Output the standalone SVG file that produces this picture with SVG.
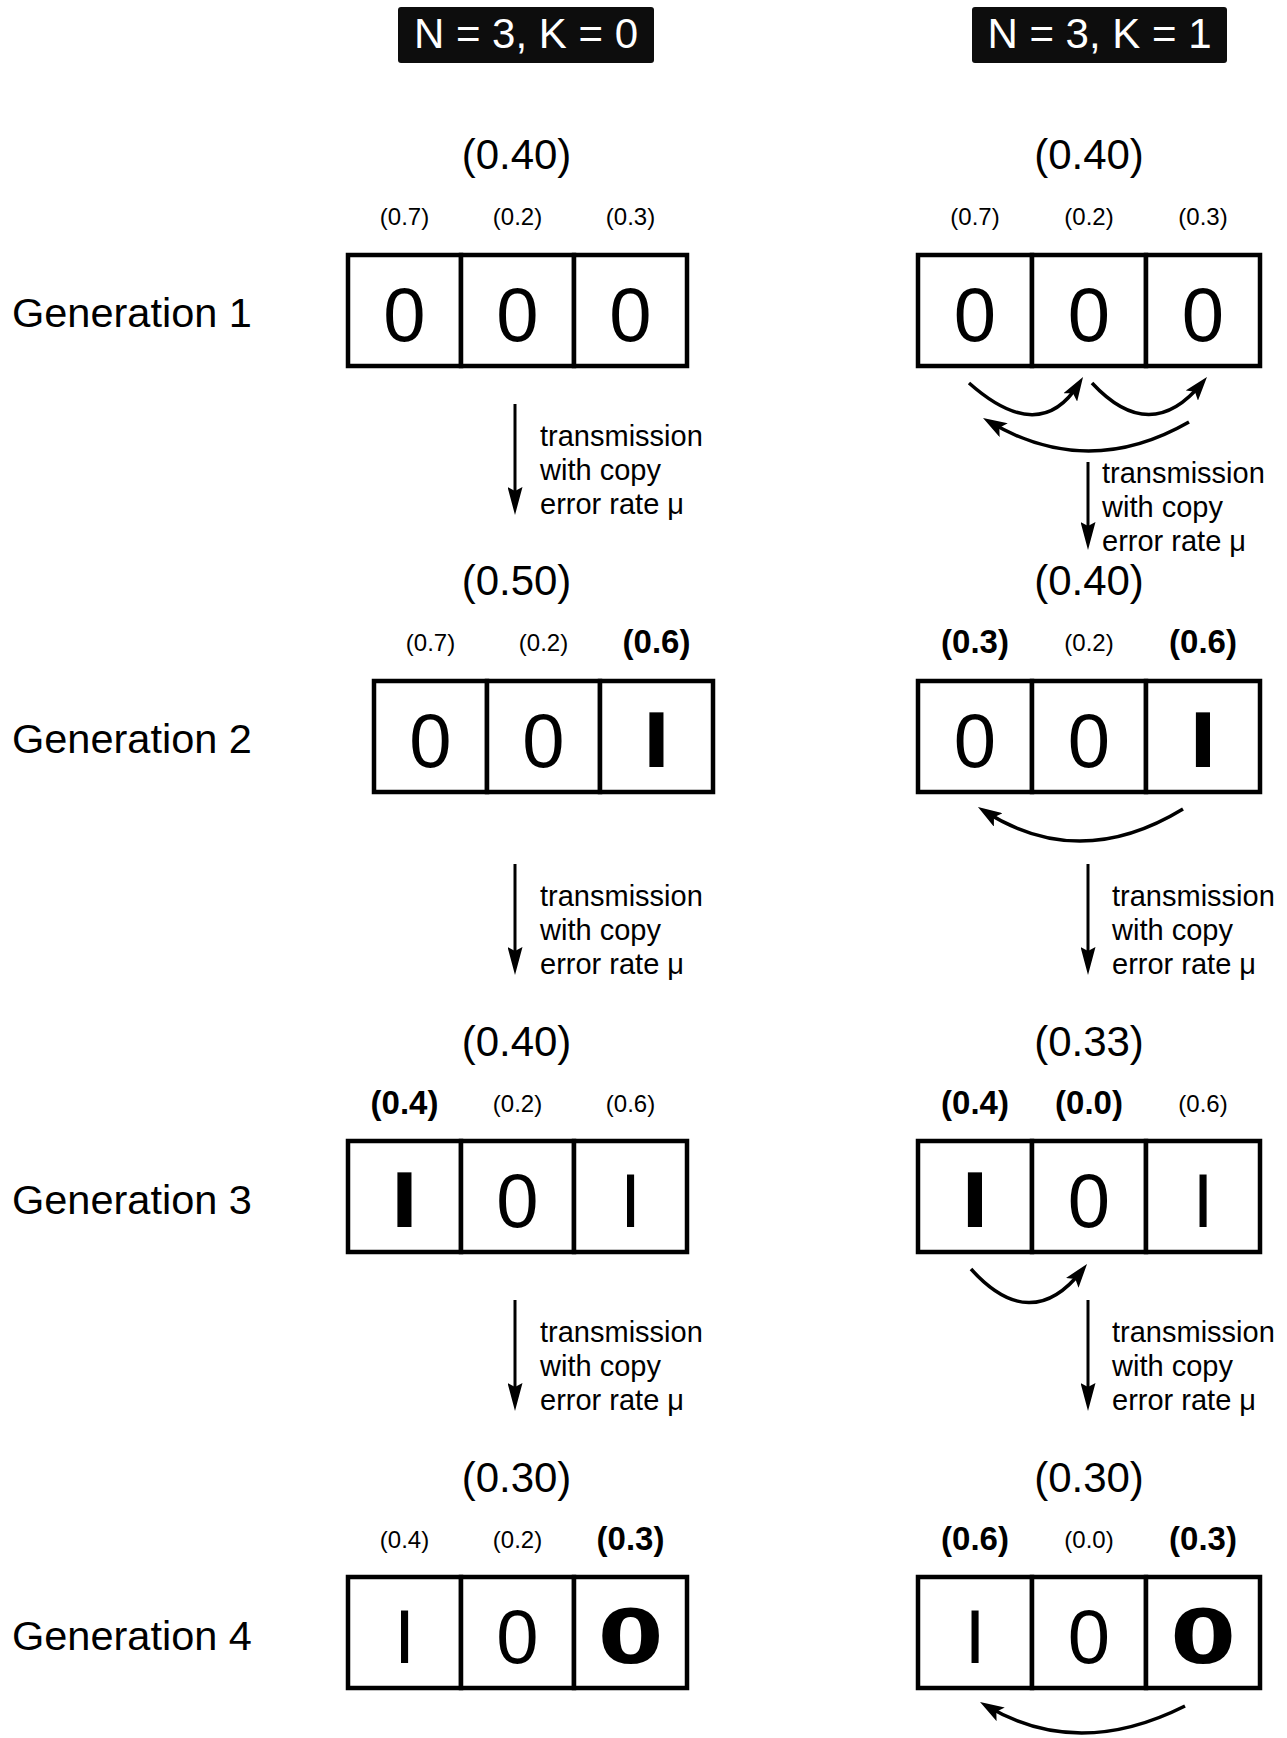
<svg xmlns="http://www.w3.org/2000/svg" width="1287" height="1738" viewBox="0 0 1287 1738">
<style>
text{font-family:"Liberation Sans",Arial,sans-serif;fill:#000}
.hdr{font-size:42px;fill:#fff;text-anchor:middle}
.hbox{fill:#0d0d0d}
.gen{font-size:41.5px}
.tot{font-size:42px;text-anchor:middle}
.sub{font-size:24px;text-anchor:middle}
.subb{font-size:33px;font-weight:bold;text-anchor:middle}
.dig{font-size:76px;text-anchor:middle}
.digb{font-family:"DejaVu Sans",sans-serif;font-size:75px;font-weight:bold;text-anchor:middle}
.tr{font-size:29px}
.cell{fill:#fff;stroke:#000;stroke-width:4.5}
.arr{fill:none;stroke:#000;stroke-width:3}
.crv{fill:none;stroke:#000;stroke-width:3.5}
</style>
<defs>
<marker id="ah" markerUnits="userSpaceOnUse" viewBox="0 0 28 15" markerWidth="28" markerHeight="15" refX="18" refY="7.5" orient="auto"><path d="M0,0 L28,7.5 L0,15 L4,7.5 Z" fill="#000"/></marker>
<marker id="ch" markerUnits="userSpaceOnUse" viewBox="0 0 24 16" markerWidth="24" markerHeight="16" refX="16" refY="8" orient="auto"><path d="M0,0 L24,8 L0,16 L5,8 Z" fill="#000"/></marker>
</defs>

<g id="header-k0"><rect class="hbox" x="398" y="7" width="256" height="56" rx="3"/><text class="hdr" x="526" y="48">N = 3, K = 0</text></g>
<g id="header-k1"><rect class="hbox" x="972" y="7" width="255" height="56" rx="3"/><text class="hdr" x="1099.5" y="48">N = 3, K = 1</text></g>

<g id="gen-labels">
<text class="gen" x="12" y="327">Generation 1</text>
<text class="gen" x="12" y="753">Generation 2</text>
<text class="gen" x="12" y="1214">Generation 3</text>
<text class="gen" x="12" y="1650">Generation 4</text>
</g>

<!-- K=0 column -->
<g id="k0-gen1">
<text class="tot" x="516.5" y="169">(0.40)</text>
<text class="sub" x="404.5" y="225">(0.7)</text><text class="sub" x="517.5" y="225">(0.2)</text><text class="sub" x="630.5" y="225">(0.3)</text>
<rect class="cell" x="348" y="255" width="113" height="111"/><rect class="cell" x="461" y="255" width="113" height="111"/><rect class="cell" x="574" y="255" width="113" height="111"/>
<text class="dig" x="404.5" y="341">0</text><text class="dig" x="517.5" y="341">0</text><text class="dig" x="630.5" y="341">0</text>
</g>
<g id="k0-gen2">
<text class="tot" x="516.5" y="595">(0.50)</text>
<text class="sub" x="430.5" y="651">(0.7)</text><text class="sub" x="543.5" y="651">(0.2)</text><text class="subb" x="656.5" y="653">(0.6)</text>
<rect class="cell" x="374" y="681" width="113" height="111"/><rect class="cell" x="487" y="681" width="113" height="111"/><rect class="cell" x="600" y="681" width="113" height="111"/>
<text class="dig" x="430.5" y="767">0</text><text class="dig" x="543.5" y="767">0</text><text class="digb" x="656.5" y="767">I</text>
</g>
<g id="k0-gen3">
<text class="tot" x="516.5" y="1056">(0.40)</text>
<text class="subb" x="404.5" y="1114">(0.4)</text><text class="sub" x="517.5" y="1112">(0.2)</text><text class="sub" x="630.5" y="1112">(0.6)</text>
<rect class="cell" x="348" y="1141" width="113" height="111"/><rect class="cell" x="461" y="1141" width="113" height="111"/><rect class="cell" x="574" y="1141" width="113" height="111"/>
<text class="digb" x="404.5" y="1227">I</text><text class="dig" x="517.5" y="1227">0</text><text class="dig" x="630.5" y="1227">I</text>
</g>
<g id="k0-gen4">
<text class="tot" x="516.5" y="1492">(0.30)</text>
<text class="sub" x="404.5" y="1548">(0.4)</text><text class="sub" x="517.5" y="1548">(0.2)</text><text class="subb" x="630.5" y="1550">(0.3)</text>
<rect class="cell" x="348" y="1577" width="113" height="111"/><rect class="cell" x="461" y="1577" width="113" height="111"/><rect class="cell" x="574" y="1577" width="113" height="111"/>
<text class="dig" x="404.5" y="1663">I</text><text class="dig" x="517.5" y="1663">0</text><text class="digb" transform="translate(630.5,1663) scale(1.26,1)" x="0" y="0">0</text>
</g>

<!-- K=1 column -->
<g id="k1-gen1">
<text class="tot" x="1089" y="169">(0.40)</text>
<text class="sub" x="975" y="225">(0.7)</text><text class="sub" x="1089" y="225">(0.2)</text><text class="sub" x="1203" y="225">(0.3)</text>
<rect class="cell" x="918" y="255" width="114" height="111"/><rect class="cell" x="1032" y="255" width="114" height="111"/><rect class="cell" x="1146" y="255" width="114" height="111"/>
<text class="dig" x="975" y="341">0</text><text class="dig" x="1089" y="341">0</text><text class="dig" x="1203" y="341">0</text>
</g>
<g id="k1-gen2">
<text class="tot" x="1089" y="595">(0.40)</text>
<text class="subb" x="975" y="653">(0.3)</text><text class="sub" x="1089" y="651">(0.2)</text><text class="subb" x="1203" y="653">(0.6)</text>
<rect class="cell" x="918" y="681" width="114" height="111"/><rect class="cell" x="1032" y="681" width="114" height="111"/><rect class="cell" x="1146" y="681" width="114" height="111"/>
<text class="dig" x="975" y="767">0</text><text class="dig" x="1089" y="767">0</text><text class="digb" x="1203" y="767">I</text>
</g>
<g id="k1-gen3">
<text class="tot" x="1089" y="1056">(0.33)</text>
<text class="subb" x="975" y="1114">(0.4)</text><text class="subb" x="1089" y="1114">(0.0)</text><text class="sub" x="1203" y="1112">(0.6)</text>
<rect class="cell" x="918" y="1141" width="114" height="111"/><rect class="cell" x="1032" y="1141" width="114" height="111"/><rect class="cell" x="1146" y="1141" width="114" height="111"/>
<text class="digb" x="975" y="1227">I</text><text class="dig" x="1089" y="1227">0</text><text class="dig" x="1203" y="1227">I</text>
</g>
<g id="k1-gen4">
<text class="tot" x="1089" y="1492">(0.30)</text>
<text class="subb" x="975" y="1550">(0.6)</text><text class="sub" x="1089" y="1548">(0.0)</text><text class="subb" x="1203" y="1550">(0.3)</text>
<rect class="cell" x="918" y="1577" width="114" height="111"/><rect class="cell" x="1032" y="1577" width="114" height="111"/><rect class="cell" x="1146" y="1577" width="114" height="111"/>
<text class="dig" x="975" y="1663">I</text><text class="dig" x="1089" y="1663">0</text><text class="digb" transform="translate(1203,1663) scale(1.26,1)" x="0" y="0">0</text>
</g>

<g id="connectors">
<line class="arr" x1="515" y1="404" x2="515" y2="505" marker-end="url(#ah)"/>
<line class="arr" x1="515" y1="864" x2="515" y2="965" marker-end="url(#ah)"/>
<line class="arr" x1="515" y1="1300" x2="515" y2="1401" marker-end="url(#ah)"/>
<line class="arr" x1="1088" y1="462" x2="1088" y2="540" marker-end="url(#ah)"/>
<line class="arr" x1="1088" y1="864" x2="1088" y2="965" marker-end="url(#ah)"/>
<line class="arr" x1="1088" y1="1300" x2="1088" y2="1401" marker-end="url(#ah)"/>
<path class="crv" d="M969,383 Q1040,446 1078.8,383.8" marker-end="url(#ch)"/>
<path class="crv" d="M1092,383 Q1150.5,446 1201.9,383.2" marker-end="url(#ch)"/>
<path class="crv" d="M1189,422 Q1088,480 989.9,422.1" marker-end="url(#ch)"/>
<path class="crv" d="M1183,809 Q1079.5,872 984.7,811.3" marker-end="url(#ch)"/>
<path class="crv" d="M971,1269 Q1031,1335.5 1082.1,1270.3" marker-end="url(#ch)"/>
<path class="crv" d="M1185,1706 Q1077.5,1760 986.9,1706.1" marker-end="url(#ch)"/>
</g>

<g id="transmission-labels">
<text class="tr" x="540" y="446">transmission<tspan x="540" dy="34">with copy</tspan><tspan x="540" dy="34">error rate μ</tspan></text>
<text class="tr" x="540" y="906">transmission<tspan x="540" dy="34">with copy</tspan><tspan x="540" dy="34">error rate μ</tspan></text>
<text class="tr" x="540" y="1342">transmission<tspan x="540" dy="34">with copy</tspan><tspan x="540" dy="34">error rate μ</tspan></text>
<text class="tr" x="1102" y="483">transmission<tspan x="1102" dy="34">with copy</tspan><tspan x="1102" dy="34">error rate μ</tspan></text>
<text class="tr" x="1112" y="906">transmission<tspan x="1112" dy="34">with copy</tspan><tspan x="1112" dy="34">error rate μ</tspan></text>
<text class="tr" x="1112" y="1342">transmission<tspan x="1112" dy="34">with copy</tspan><tspan x="1112" dy="34">error rate μ</tspan></text>
</g>
</svg>
